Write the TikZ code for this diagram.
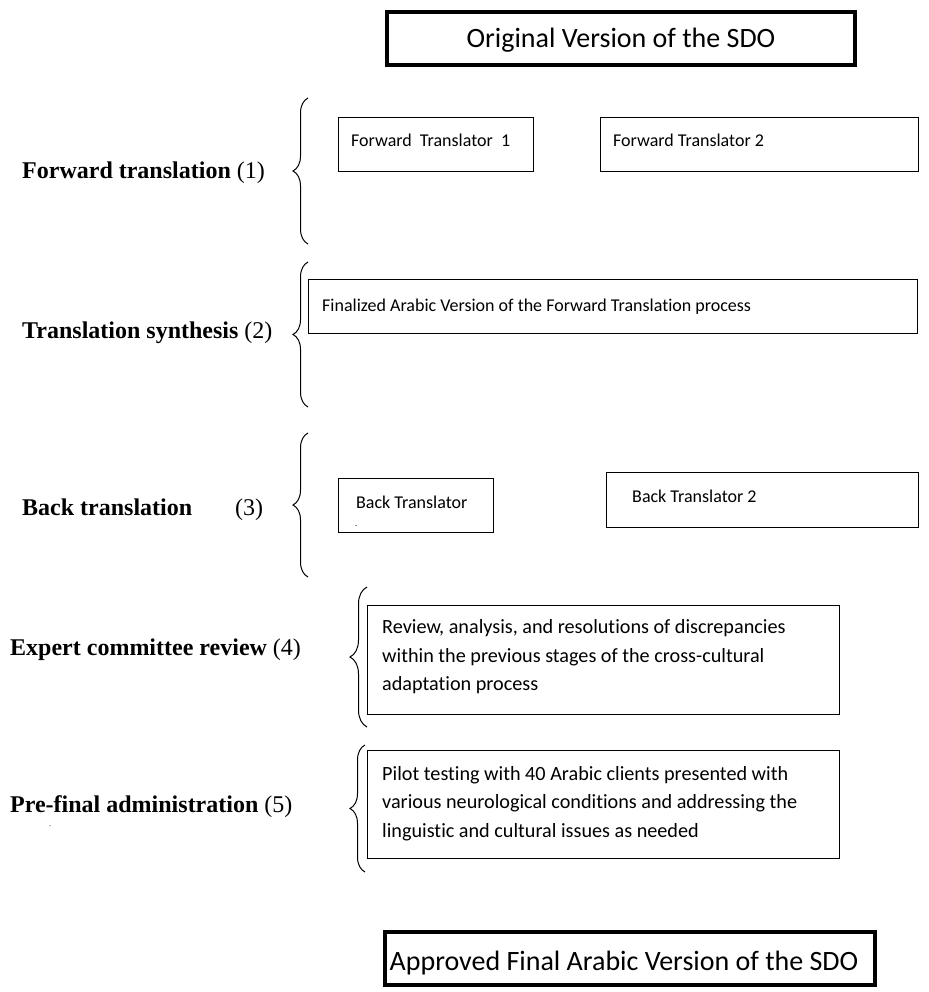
\documentclass[tikz,border=0pt]{standalone}
\usepackage{fontspec}
\setmainfont{Liberation Serif}
\newfontfamily\calib[Ligatures={NoCommon}]{Carlito}
\usetikzlibrary{decorations.pathreplacing}
\begin{document}
\begin{tikzpicture}[x=1pt,y=-1pt,
  thinbox/.style={draw, rectangle, line width=1pt, inner sep=0pt},
  thickbox/.style={draw, rectangle, line width=4pt, inner sep=0pt},
  boxtxt/.style={anchor=base west, inner sep=0pt, font=\calib\fontsize{18}{22}\selectfont},
  longtxt/.style={anchor=base west, inner sep=0pt, font=\calib\fontsize{20.2}{24}\selectfont},
  bigtxt/.style={anchor=base, inner sep=0pt, font=\calib\fontsize{28}{34}\selectfont},
  lbl/.style={anchor=base west, inner sep=0pt, font=\fontsize{24}{28}\selectfont},
  brc/.style={decorate, decoration={brace, amplitude=15pt}, line width=1pt}]
\useasboundingbox (0,0) rectangle (928,992);

% top and bottom boxes
\node[thickbox, minimum width=468pt, minimum height=53pt] (top) at (621,38.5) {};
\node[bigtxt] (toptxt) at (621,48) {Original Version of the SDO};
\node[thickbox, minimum width=490pt, minimum height=53pt] (bot) at (630,958.5) {};
\node[bigtxt] (bottxt) at (624,970) {Approved Final Arabic Version of the SDO};

% stage 1
\node[lbl] (l1) at (22,179) {\textbf{Forward translation} (1)};
\draw[brc] (308,244) -- (308,98);
\node[thinbox, minimum width=195pt, minimum height=54pt] (ft1) at (435.5,145) {};
\node[boxtxt] (ft1t) at (351,147) {Forward\ \ Translator\ \ 1};
\node[thinbox, minimum width=318pt, minimum height=54pt] (ft2) at (759,145) {};
\node[boxtxt] (ft2t) at (613,147) {Forward Translator 2};

% stage 2
\node[lbl] (l2) at (22,338) {\textbf{Translation synthesis} (2)};
\draw[brc] (308,407) -- (308,262);
\node[thinbox, minimum width=609pt, minimum height=54pt] (fin) at (612.5,306) {};
\node[boxtxt] (fint) at (322,311) {Finalized Arabic Version of the Forward Translation process};

% stage 3
\node[lbl] (l3) at (22,515) {\textbf{Back translation}\hspace*{43pt}(3)};
\draw[brc] (308,577) -- (308,433);
\node[thinbox, minimum width=155pt, minimum height=54pt] (bt1) at (415.5,505) {};
\node[boxtxt] (bt1t) at (356,508) {Back Translator};
\node[anchor=base west, inner sep=0pt, font=\calib\fontsize{9}{10}\selectfont] (bt1d) at (355,526) {.};
\node[thinbox, minimum width=312pt, minimum height=55pt] (bt2) at (762,499.5) {};
\node[boxtxt] (bt2t) at (632,502) {Back Translator 2};

% stage 4
\node[lbl] (l4) at (10,655) {\textbf{Expert committee review} (4)};
\draw[brc, decoration={amplitude=17pt}] (367,727) -- (367,587);
\node[thinbox, minimum width=472pt, minimum height=109pt] (rev) at (603,659.5) {};
\node[longtxt] (rev1) at (382,633) {Review, analysis, and resolutions of discrepancies};
\node[longtxt] (rev2) at (382,662) {within the previous stages of the cross-cultural};
\node[longtxt] (rev3) at (382,690) {adaptation process};

% stage 5
\node[lbl] (l5) at (10,812) {\textbf{Pre-final administration} (5)};
\node[anchor=base west, inner sep=0pt, font=\fontsize{8}{9}\selectfont] (dot5) at (49,826) {.};
\draw[brc] (365,872) -- (365,745);
\node[thinbox, minimum width=472pt, minimum height=108pt] (pil) at (603,804) {};
\node[longtxt] (pil1) at (382,780) {Pilot testing with 40 Arabic clients presented with};
\node[longtxt] (pil2) at (382,808) {various neurological conditions and addressing the};
\node[longtxt] (pil3) at (382,837) {linguistic and cultural issues as needed};
\end{tikzpicture}
\end{document}
